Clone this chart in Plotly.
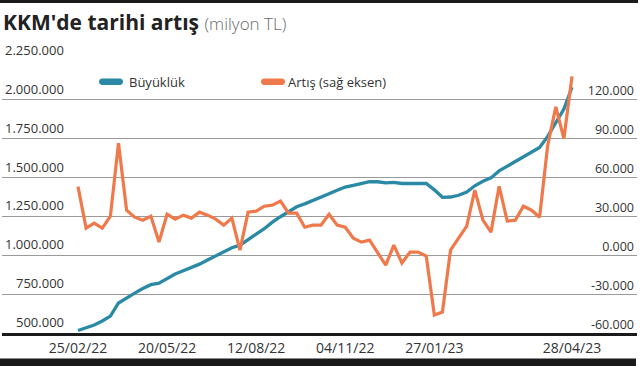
import plotly.graph_objects as go

# ---- data ----
week_index = list(range(62))
buyukluk = [516000, 532000, 551000, 577000, 609000, 693000, 728000, 757000, 786000, 811000,
            821000, 853000, 879000, 901000, 920000, 943000, 969000, 994000, 1023000, 1049000,
            1065000, 1103000, 1136000, 1171000, 1213000, 1248000, 1283000, 1312000, 1331000, 1351000,
            1373000, 1396000, 1418000, 1439000, 1450000, 1461000, 1474000, 1473000, 1466000, 1469000,
            1462000, 1463000, 1463000, 1462000, 1421000, 1373000, 1375000, 1386000, 1407000, 1447000,
            1476000, 1498000, 1543000, 1572000, 1601000, 1630000, 1662000, 1694000, 1765000, 1851000,
            1941000, 2081000]
artis = [53000, 21000, 24800, 21000, 30200, 86500, 34800, 29400, 27100, 30200,
         10200, 31700, 27900, 31000, 28700, 33300, 31000, 27900, 23300, 28700,
         4000, 33300, 34100, 37900, 38700, 41800, 32500, 32500, 21700, 23300,
         23300, 31700, 23300, 21700, 13200, 10200, 11700, 2500, -7600, 7800,
         -6000, 2500, 2500, -600, -46100, -43800, 4000, 13200, 22500, 50300,
         27100, 17900, 53300, 26400, 27100, 37900, 34800, 29400, 84900, 114600,
         90100, 138100]
x_tick_pos = [0, 11, 22, 33, 44, 61]
x_tick_text = ["25/02/22", "20/05/22", "12/08/22", "04/11/22", "27/01/23", "28/04/23"]
left_ticks = [500000, 750000, 1000000, 1250000, 1500000, 1750000, 2000000, 2250000]
left_tick_text = ["500.000", "750.000", "1.000.000", "1.250.000", "1.500.000", "1.750.000",
                  "2.000.000", "2.250.000"]
right_ticks = [-60000, -30000, 0, 30000, 60000, 90000, 120000, 150000]
right_tick_text = ["-60.000", "-30.000", "0.000", "30.000", "60.000", "90.000", "120.000", "150.000"]
series_names = ["Büyüklük", "Artış (sağ eksen)"]

BLUE = "#2a89a5"
ORANGE = "#f0794b"
TXT = "#333333"
FONT = "Open Sans"

W, H = 640, 366
ML, MR, MT, MB = 2, 3, 0, 33
PLOT_TOP = 61                      # pixel row of the top gridline
PW, PH = W - ML - MR, H - MT - MB  # paper area (0..333 px tall)
Y_DOMAIN = [0, (H - MB - PLOT_TOP) / PH]


def px_x(px):
    return (px - ML) / PW


def px_y(py):
    return (H - MB - py) / PH


fig = go.Figure()
fig.add_trace(go.Scatter(x=week_index, y=buyukluk, name=series_names[0], mode="lines",
                         line=dict(color=BLUE, width=3.3), yaxis="y", showlegend=False))
fig.add_trace(go.Scatter(x=week_index, y=artis, name=series_names[1], mode="lines",
                         line=dict(color=ORANGE, width=3.2), yaxis="y2", showlegend=False))

shapes = []
annotations = []

# left tick labels (right aligned, sitting above gridlines)
for v, t in zip(left_ticks, left_tick_text):
    annotations.append(dict(xref="paper", yref="y", x=px_x(65), y=v, xanchor="right",
                            yanchor="bottom", text=t, showarrow=False,
                            font=dict(family=FONT, size=13, color=TXT), borderpad=0, yshift=1))


# legend pills
def pill(L, R, T, B, color):
    r = (B - T) / 2
    k = 1.33 * r
    pts = [
        ("M", [(L + r, T)]),
        ("L", [(R - r, T)]),
        ("C", [(R - r + k, T), (R - r + k, B), (R - r, B)]),
        ("L", [(L + r, B)]),
        ("C", [(L + r - k, B), (L + r - k, T), (L + r, T)]),
    ]
    path = ""
    for cmd, ps in pts:
        path += cmd + " " + " ".join(f"{px_x(a):.5f},{px_y(b):.5f}" for a, b in ps) + " "
    path += "Z"
    return dict(type="path", xref="paper", yref="paper", path=path,
                fillcolor=color, line=dict(width=0), layer="above")


shapes.append(pill(99, 123, 78.5, 85, BLUE))
shapes.append(pill(261, 285, 78.5, 85, ORANGE))
annotations.append(dict(xref="paper", yref="paper", x=px_x(127), y=px_y(81.5), xanchor="left",
                        yanchor="middle", text=series_names[0], showarrow=False,
                        font=dict(family=FONT, size=13, color=TXT)))
annotations.append(dict(xref="paper", yref="paper", x=px_x(286), y=px_y(81.5), xanchor="left",
                        yanchor="middle", text=series_names[1], showarrow=False,
                        font=dict(family=FONT, size=13, color=TXT)))

# top rule and bottom band
shapes.append(dict(type="rect", xref="paper", yref="paper", x0=px_x(0), x1=px_x(638),
                   y0=px_y(3), y1=px_y(0), fillcolor="#1a1a1a", line=dict(width=0),
                   layer="above"))
shapes.append(dict(type="rect", xref="paper", yref="paper", x0=px_x(0), x1=px_x(636),
                   y0=px_y(367), y1=px_y(358.5), fillcolor="#1a1a1a", line=dict(width=0)))

fig.update_layout(
    width=W, height=H,
    margin=dict(l=ML, r=MR, t=MT, b=MB),
    paper_bgcolor="white", plot_bgcolor="white",
    showlegend=False,
    title=dict(text="<b>KKM'de tarihi artış</b> <span style='font-size:17px;color:#6a6a6a;font-weight:300'>(milyon TL)</span>",
               x=3 / W, xanchor="left", xref="container",
               y=1 - 23 / H, yanchor="middle", yref="container",
               font=dict(family=FONT, size=21, color="#222222")),
    xaxis=dict(range=[-(78 - ML) / 8.098, 61 + (W - MR - 572) / 8.098],
               tickvals=x_tick_pos, ticktext=x_tick_text, showgrid=False, zeroline=False,
               showline=True, linecolor="#1a1a1a", linewidth=2.5, ticks="",
               tickfont=dict(family=FONT, size=14, color=TXT)),
    yaxis=dict(range=[500000, 2250000], domain=Y_DOMAIN, tickvals=left_ticks,
               showticklabels=False, showgrid=True, gridcolor="#9a9a9a", gridwidth=1,
               zeroline=False, showline=False, ticks=""),
    yaxis2=dict(range=[-60000, 150000], domain=Y_DOMAIN, tickvals=right_ticks,
                ticktext=right_tick_text, overlaying="y", side="right", showgrid=False,
                zeroline=False, showline=False, ticks="", ticklabelposition="inside top",
                tickfont=dict(family=FONT, size=12.5, color=TXT)),
    shapes=shapes,
    annotations=annotations,
)

fig.write_html("out.html", config={"displayModeBar": False},
               post_script="document.body.style.margin='0px';")
